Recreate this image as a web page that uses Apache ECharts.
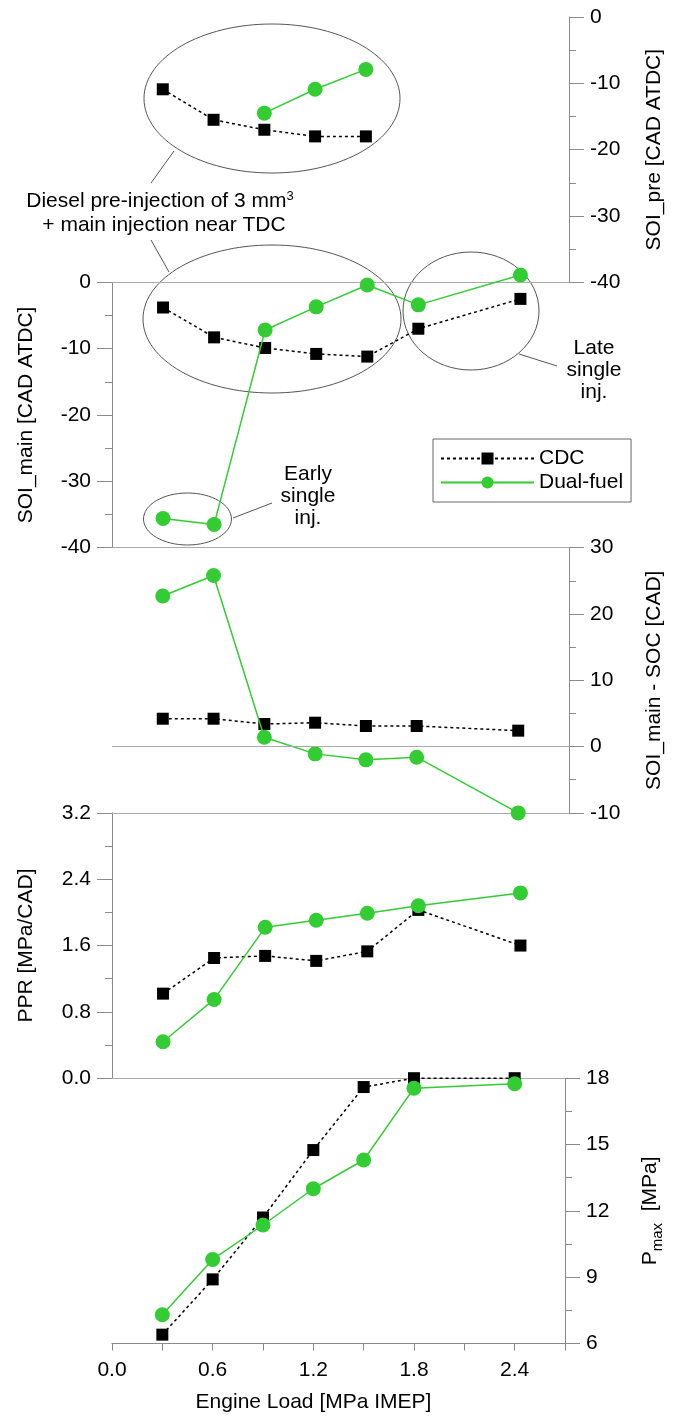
<!DOCTYPE html>
<html><head><meta charset="utf-8">
<script src="https://cdn.jsdelivr.net/npm/echarts@6/dist/echarts.min.js"></script>
<style>html,body{margin:0;padding:0;background:#fff}#c{width:673px;height:1420px}</style>
</head><body><div id="c"></div>
<script>
// ---------- data ----------
const loads = [0.3, 0.6, 0.9, 1.2, 1.5, 1.8, 2.4];
const preLoadsCDC = [0.3, 0.6, 0.9, 1.2, 1.5];
const preLoadsDual = [0.9, 1.2, 1.5];
const cdcPre = [-10.9, -15.5, -17.0, -18.0, -18.0];
const dualPre = [-14.5, -10.9, -7.9];
const cdcMain = [-3.8, -8.3, -9.9, -10.8, -11.2, -7.0, -2.5];
const dualMain = [-35.6, -36.5, -7.2, -3.7, -0.4, -3.4, 1.1];
const cdcSoc = [4.2, 4.2, 3.4, 3.6, 3.1, 3.1, 2.4];
const dualSoc = [22.7, 25.8, 1.4, -1.1, -2.0, -1.6, -10.0];
const cdcPpr = [1.02, 1.45, 1.475, 1.415, 1.53, 2.03, 1.60];
const dualPpr = [0.44, 0.95, 1.82, 1.905, 1.99, 2.08, 2.235];
const cdcPmax = [6.4, 8.9, 11.7, 14.75, 17.6, 18.0, 18.0];
const dualPmax = [7.3, 9.8, 11.36, 13.0, 14.3, 17.55, 17.75];
const xTickLabels = ['0.0', '0.6', '1.2', '1.8', '2.4'];
const seriesNames = ['CDC', 'Dual-fuel'];

// ---------- style ----------
const FONT = '"Liberation Sans", Arial, sans-serif';
const AX = '#8a8a8a';
const GREEN = '#33cc33';
const FS = 21;
const H = 265.3, TOP0 = 17;

const chart = echarts.init(document.getElementById('c'), null, {renderer: 'canvas'});

const grids = [0, 1, 2, 3, 4].map(i => ({left: 112, right: 101.5, top: TOP0 + i * H, height: H}));

const xAxes = [0, 1, 2, 3, 4].map(i => {
  const last = i === 4;
  return {
    gridIndex: i, type: 'value', min: 0, max: 2.7, interval: 0.3,
    axisLine: {show: true, onZero: false, lineStyle: {color: last ? AX : '#aaaaaa', width: 1}},
    axisTick: {show: last, length: 7, lineStyle: {color: AX}},
    axisLabel: {show: last, margin: 16, fontSize: FS, fontFamily: FONT, color: '#000',
      formatter: v => xTickLabels.includes(v.toFixed(1)) ? v.toFixed(1) : ''},
    splitLine: {show: false},
    name: last ? 'Engine Load [MPa IMEP]' : '',
    nameLocation: 'middle', nameGap: 48,
    nameTextStyle: {fontSize: FS, fontFamily: FONT, color: '#000', padding: [0, 50, 0, 0]}
  };
});

function yAx(i, pos, min, max, interval, name, fmt) {
  return {
    gridIndex: i, type: 'value', position: pos, min, max, interval,
    axisLine: {show: true, onZero: false, lineStyle: {color: AX, width: 1}},
    axisTick: {show: true, length: 15, lineStyle: {color: AX}},
    minorTick: {show: true, splitNumber: 2, length: 7, lineStyle: {color: AX}},
    splitLine: {show: false}, minorSplitLine: {show: false},
    axisLabel: {margin: 21, fontSize: FS, fontFamily: FONT, color: '#000', formatter: fmt},
    name, nameLocation: 'middle', nameGap: 75,
    nameTextStyle: {fontSize: FS, fontFamily: FONT, color: '#000',
      rich: {p: {fontSize: FS, fontFamily: FONT, verticalAlign: 'top'},
             sub: {fontSize: 15, fontFamily: FONT, verticalAlign: 'bottom', padding: [10, 0, 0, 0]}}}
  };
}
const yAxes = [
  yAx(0, 'right', -40, 0, 10, 'SOI_pre [CAD ATDC]'),
  yAx(1, 'left', -40, 0, 10, 'SOI_main [CAD ATDC]'),
  yAx(2, 'right', -10, 30, 10, 'SOI_main - SOC [CAD]'),
  yAx(3, 'left', 0, 3.2, 0.8, 'PPR [MPa/CAD]', v => v.toFixed(1)),
  yAx(4, 'right', 6, 18, 3, '{p|P}{sub|max}{p|  [MPa]}')
];

function pts(xs, ys) { return xs.map((x, k) => [x, ys[k]]); }
function cdc(i, xs, ys, extra) {
  return Object.assign({
    name: seriesNames[0], type: 'line', xAxisIndex: i, yAxisIndex: i, data: pts(xs, ys),
    symbol: 'rect', symbolSize: 12, clip: false, z: 3,
    itemStyle: {color: '#000', borderWidth: 0},
    lineStyle: {color: '#000', width: 1.5, type: [3, 3]}
  }, extra || {});
}
function dual(i, xs, ys) {
  return {
    name: seriesNames[1], type: 'line', xAxisIndex: i, yAxisIndex: i, data: pts(xs, ys),
    symbol: 'circle', symbolSize: 15, clip: false, z: 4,
    itemStyle: {color: GREEN, borderWidth: 0},
    lineStyle: {color: GREEN, width: 1.5}
  };
}
const zeroLine = {markLine: {silent: true, symbol: 'none', label: {show: false},
  lineStyle: {color: '#aaaaaa', type: 'solid', width: 1}, data: [{yAxis: 0}]}};

const series = [
  cdc(0, preLoadsCDC, cdcPre), dual(0, preLoadsDual, dualPre),
  cdc(1, loads, cdcMain), dual(1, loads, dualMain),
  cdc(2, loads, cdcSoc, zeroLine), dual(2, loads, dualSoc),
  cdc(3, loads, cdcPpr), dual(3, loads, dualPpr),
  cdc(4, loads, cdcPmax), dual(4, loads, dualPmax)
];

const G = '#555';
const ell = (cx, cy, rx, ry) => ({type: 'ellipse', shape: {cx, cy, rx, ry}, style: {fill: 'none', stroke: G, lineWidth: 1}, silent: true});
const seg = (x1, y1, x2, y2) => ({type: 'line', shape: {x1, y1, x2, y2}, style: {stroke: G, lineWidth: 1}, silent: true});
const txt = (x, y, text, extra) => ({type: 'text', x, y, silent: true,
  style: Object.assign({text, fill: '#000', font: FS + 'px ' + FONT, align: 'center', verticalAlign: 'middle', lineHeight: 22}, extra || {})});

const graphic = [
  ell(272, 98.5, 128, 74.5),
  ell(272, 319, 129, 74),
  ell(471, 311, 68, 59),
  ell(187.5, 519, 44, 26),
  seg(151, 183, 174, 151),
  seg(151, 240, 169, 272),
  seg(233, 518, 272, 503),
  seg(519, 354, 557, 366),
  txt(160, 212, '{t|Diesel pre-injection of 3 mm}{s|3}', {verticalAlign: 'bottom',
    rich: {t: {fontSize: FS, fontFamily: FONT, verticalAlign: 'bottom'},
           s: {fontSize: 13, fontFamily: FONT, verticalAlign: 'top', padding: [0, 0, 14, 0]}}}),
  txt(164, 225, '+ main injection near TDC'),
  txt(308, 496, 'Early\nsingle\ninj.'),
  txt(594, 370, 'Late\nsingle\ninj.')
];

chart.setOption({
  animation: false,
  backgroundColor: '#fff',
  textStyle: {fontFamily: FONT},
  grid: grids, xAxis: xAxes, yAxis: yAxes, series,
  legend: {
    data: seriesNames, orient: 'vertical', left: 433, top: 439,
    padding: [9, 8, 9, 7], itemWidth: 93, itemHeight: 15, itemGap: 3,
    borderColor: '#666', borderWidth: 1, backgroundColor: '#fff',
    textStyle: {fontSize: FS, fontFamily: FONT, color: '#000'}
  },
  graphic
});
</script>
</body></html>
